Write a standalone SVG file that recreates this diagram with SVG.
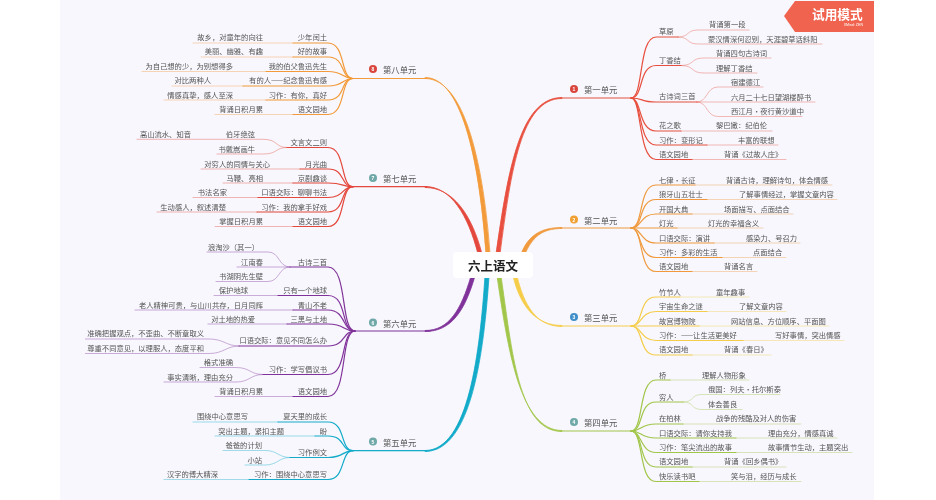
<svg xmlns="http://www.w3.org/2000/svg" width="936" height="500" viewBox="0 0 936 500">
<style>
text{font-family:"Noto Sans CJK SC","Liberation Sans",sans-serif;dominant-baseline:central;fill:#555}
.t{font-size:7.3px}
.e{text-anchor:end}
.u{font-size:8.4px;fill:#555}
.r{font-size:12.5px;font-weight:700;fill:#222;text-anchor:middle}
.n{font-size:5px;font-weight:700;fill:#fff;text-anchor:middle;font-family:"Liberation Sans",sans-serif}
.a path,.b path{fill:none;stroke-linecap:round}
.m path{stroke-width:.8}
.a path{stroke-width:1.2}
.b path{stroke-width:.7;opacity:.55}
.c1{stroke:#e8503f;fill:#e8503f}.c2{stroke:#f09a3e;fill:#f09a3e}.c3{stroke:#f5cd4a;fill:#f5cd4a}.c4{stroke:#a2c64a;fill:#a2c64a}.c5{stroke:#12aac9;fill:#12aac9}.c6{stroke:#80339a;fill:#80339a}.c7{stroke:#e4473b;fill:#e4473b}.c8{stroke:#f39a3a;fill:#f39a3a}
</style>
<defs><filter id="soft" x="0" y="0" width="1" height="1"><feGaussianBlur stdDeviation="0.5"/></filter></defs>
<rect width="936" height="500" fill="#fff"/>
<rect x="60" y="0" width="814" height="500" fill="#f7f7fd"/>
<g filter="url(#soft)">
<g id="conn">
<g class="m">
<path class="c1" d="M496 254C508 170 520 97.500 562 97.500V98.500C521 98.500 511 170 500 254Z"/>
<path class="c2" d="M521 254C528 236 540 227.500 562 227.500V228.500C541 228.500 532 238 525 254Z"/>
<path class="c3" d="M513 276C520 305 535 325.500 562 325.500V326.500C536 326.500 524 305 517 276Z"/>
<path class="c4" d="M497 276C508 350 520 430.500 562 430.500V431.500C518 431.500 512 350 501 276Z"/>
<path class="c5" d="M485 276C480 350 469 450.500 425 450.500V451.500C472 451.500 484 350 489 276Z"/>
<path class="c6" d="M471 276C461 310 449 330.500 425 330.500V331.500C452 331.500 465 310 475 276Z"/>
<path class="c7" d="M478 254C468 215 451 186.500 425 186.500V187.500C453 187.500 472 215 482 254Z"/>
<path class="c8" d="M486 254C480 170 464 77.500 425 77.500V78.500C466 78.500 484 170 490 254Z"/>
</g>
<g class="a c1">
<path d="M560 98H631"/>
<path d="M631 98C644 98 638 37 656 37H678"/><path d="M631 98C644 98 638 65.500 656 65.500H681"/><path d="M631 98C644 98 640 102 656 102H697"/><path d="M631 98C642 98 638 131 656 131H681"/><path d="M631 98C642 98 638 145 656 145H707"/><path d="M631 98C642 98 638 159.500 656 159.500H692"/>
</g>
<g class="b c1">
<path d="M678 37C690 37 686 30 698 30H749"/><path d="M678 37C690 37 686 44 698 44H822"/>
<path d="M681 65.500C695 65.500 690 58 704 58H771"/><path d="M681 65.500C695 65.500 690 73 704 73H757"/>
<path d="M697 102C708 102 706 87 718 87H763"/><path d="M697 102H815"/><path d="M697 102C708 102 706 116.500 718 116.500H802"/>
<path d="M681 131H772"/><path d="M707 145H778"/><path d="M692 159.500H786"/>
</g>
<g class="a c2">
<path d="M560 228H631"/>
<path d="M631 228C644 228 638 185 656 185H695"/><path d="M631 228C644 228 638 199.500 656 199.500H707"/><path d="M631 228C642 228 640 214 656 214H692"/><path d="M631 228H677"/><path d="M631 228C642 228 640 243 656 243H714"/><path d="M631 228C642 228 638 257.500 656 257.500H722"/><path d="M631 228C644 228 638 271.500 656 271.500H692"/>
</g>
<g class="b c2">
<path d="M695 185H832"/><path d="M707 199.500H837"/><path d="M692 214H793"/><path d="M677 228H763"/><path d="M714 243H800"/><path d="M722 257.500H786"/><path d="M692 271.500H757"/>
</g>
<g class="a c3">
<path d="M560 326H631"/>
<path d="M631 326C644 326 638 297 656 297H680"/><path d="M631 326C642 326 640 311.500 656 311.500H707"/><path d="M631 326H699"/><path d="M631 326C642 326 640 340.500 656 340.500H743"/><path d="M631 326C644 326 638 355 656 355H692"/>
</g>
<g class="b c3">
<path d="M680 297H749"/><path d="M707 311.500H786"/><path d="M699 326H829"/><path d="M743 340.500H844"/><path d="M692 355H771"/>
</g>
<g class="a c4">
<path d="M560 431H631"/>
<path d="M631 431C644 431 638 380 656 380H670"/><path d="M631 431C644 431 638 402 656 402H683"/><path d="M631 431C642 431 640 424 656 424H683"/><path d="M631 431C642 431 640 438 656 438H736"/><path d="M631 431C642 431 640 452.500 656 452.500H736"/><path d="M631 431C644 431 638 467 656 467H692"/><path d="M631 431C644 431 638 481.500 656 481.500H699"/>
</g>
<g class="b c4">
<path d="M670 380H749"/><path d="M683 402C695 402 690 394.500 702 394.500H780"/><path d="M683 402C695 402 690 409.500 702 409.500H742"/><path d="M683 424H801"/><path d="M736 438H837"/><path d="M736 452.500H852"/><path d="M692 467H786"/><path d="M699 481.500H801"/>
</g>
<g class="a c8">
<path d="M427 78.500H353"/>
<path d="M353 78.500C340 78.500 346 43 328 43H293"/><path d="M353 78.500C340 78.500 346 57 328 57H293"/><path d="M353 78.500C342 78.500 344 71.500 328 71.500H266"/><path d="M353 78.500C342 78.500 344 86 328 86H243"/><path d="M353 78.500C340 78.500 346 100 328 100H266"/><path d="M353 78.500C340 78.500 346 114.500 328 114.500H293"/>
</g>
<g class="b c8">
<path d="M293 43H193"/><path d="M293 57H201"/><path d="M266 71.500H142"/><path d="M243 86H172"/><path d="M266 100H164"/><path d="M293 114.500H215"/>
</g>
<g class="a c7">
<path d="M427 186.700H353"/>
<path d="M353 186.700C340 186.700 346 147.500 328 147.500H287"/><path d="M353 186.700C340 186.700 346 169 328 169H300"/><path d="M353 186.700C342 186.700 344 183 328 183H293"/><path d="M353 186.700C342 186.700 344 197.500 328 197.500H258"/><path d="M353 186.700C340 186.700 346 212 328 212H257"/><path d="M353 186.700C340 186.700 346 226.500 328 226.500H293"/>
</g>
<g class="b c7">
<path d="M287 147.500C275 147.500 278 139.300 263 139.300H137"/><path d="M287 147.500C275 147.500 278 154 263 154H217"/>
<path d="M300 169H201"/><path d="M293 183H223"/><path d="M258 197.500H193"/><path d="M257 212H157"/><path d="M293 226.500H215"/>
</g>
<g class="a c6">
<path d="M430 331H355"/>
<path d="M355 331C340 331 348 267 328 267H290"/><path d="M355 331C340 331 348 295.500 328 295.500H278"/><path d="M355 331C342 331 346 310 328 310H293"/><path d="M355 331C342 331 346 324 328 324H287"/><path d="M355 331C342 331 346 346 328 346H239"/><path d="M355 331C340 331 348 374.500 328 374.500H263"/><path d="M355 331C340 331 348 396.500 328 396.500H293"/>
</g>
<g class="b c6">
<path d="M290 267C278 267 280 252 268 252H207"/><path d="M290 267H237"/><path d="M290 267C278 267 280 281.500 268 281.500H216"/>
<path d="M278 295.500H214"/><path d="M293 310H135"/><path d="M287 324H208"/>
<path d="M239 346C226 346 224 339 209 339H85"/><path d="M239 346C226 346 224 353.500 209 353.500H85"/>
<path d="M263 374.500C250 374.500 250 367.500 236 367.500H200"/><path d="M263 374.500C250 374.500 250 382 236 382H164"/>
<path d="M293 396.500H215"/>
</g>
<g class="a c5">
<path d="M427 450.700H353"/>
<path d="M353 450.700C340 450.700 346 422 328 422H278"/><path d="M353 450.700C340 450.700 346 436 328 436H315"/><path d="M353 450.700C342 450.700 344 457.500 328 457.500H290"/><path d="M353 450.700C340 450.700 346 479.500 328 479.500H249"/>
</g>
<g class="b c5">
<path d="M278 422H193"/><path d="M315 436H215"/>
<path d="M290 457.500C278 457.500 278 450.500 265 450.500H223"/><path d="M290 457.500C278 457.500 278 465 265 465H245"/>
<path d="M249 479.500H164"/>
</g>
</g>
<g id="root"><rect x="453" y="252" width="80" height="26" rx="4" fill="#fff"/><text class="r" x="493" y="265">六上语文</text></g>
<g id="badge"><polygon points="784,16 795,1 874,1 874,32 795,32" fill="#f0634f"/><text x="812" y="13" style="font-size:12.7px;font-weight:700;fill:#fff">试用模式</text><text x="863" y="25" class="e" style="font-size:3.6px;fill:#fff;font-family:'Liberation Sans',sans-serif">XMind: ZEN</text></g>
<g id="u1"><circle cx="574" cy="89" r="4" fill="#d9453c"/><text class="n" x="574" y="89">1</text><text class="u" x="584" y="89">第一单元</text></g>
<g id="n1"><text class="t" x="659" y="31">草原</text></g>
<g id="n1a"><text class="t" x="709" y="24">背诵第一段</text></g>
<g id="n1b"><text class="t" x="708" y="39">蒙汉情深何忍别，天涯碧草话斜阳</text></g>
<g id="n2"><text class="t" x="659" y="60">丁香结</text></g>
<g id="n2a"><text class="t" x="716" y="53">背诵四句古诗词</text></g>
<g id="n2b"><text class="t" x="716" y="68">理解丁香结</text></g>
<g id="n3"><text class="t" x="659" y="96">古诗词三首</text></g>
<g id="n3a"><text class="t" x="731" y="82">宿建德江</text></g>
<g id="n3b"><text class="t" x="731" y="96.500">六月二十七日望湖楼醉书</text></g>
<g id="n3c"><text class="t" x="731" y="111">西江月·夜行黄沙道中</text></g>
<g id="n4"><text class="t" x="659" y="125">花之歌</text></g>
<g id="n4a"><text class="t" x="716" y="125">黎巴嫩：纪伯伦</text></g>
<g id="n5"><text class="t" x="659" y="139.500">习作：变形记</text></g>
<g id="n5a"><text class="t" x="738" y="139.500">丰富的联想</text></g>
<g id="n6"><text class="t" x="659" y="154">语文园地</text></g>
<g id="n6a"><text class="t" x="724" y="154">背诵《过故人庄》</text></g>
<g id="u2"><circle cx="574" cy="219.500" r="4" fill="#f0a030"/><text class="n" x="574" y="219.500">2</text><text class="u" x="584" y="219.500">第二单元</text></g>
<g id="n7"><text class="t" x="659" y="179.500">七律·长征</text></g>
<g id="n7a"><text class="t" x="726" y="179.500">背诵古诗，理解诗句，体会情感</text></g>
<g id="n8"><text class="t" x="659" y="194">狼牙山五壮士</text></g>
<g id="n8a"><text class="t" x="739" y="194">了解事情经过，掌握文章内容</text></g>
<g id="n9"><text class="t" x="659" y="208.500">开国大典</text></g>
<g id="n9a"><text class="t" x="724" y="208.500">场面描写、点面结合</text></g>
<g id="n10"><text class="t" x="659" y="223">灯光</text></g>
<g id="n10a"><text class="t" x="708" y="223">灯光的幸福含义</text></g>
<g id="n11"><text class="t" x="659" y="237.500">口语交际：演讲</text></g>
<g id="n11a"><text class="t" x="746" y="237.500">感染力、号召力</text></g>
<g id="n12"><text class="t" x="659" y="252">习作：多彩的生活</text></g>
<g id="n12a"><text class="t" x="753" y="252">点面结合</text></g>
<g id="n13"><text class="t" x="659" y="266">语文园地</text></g>
<g id="n13a"><text class="t" x="724" y="266">背诵名言</text></g>
<g id="u3"><circle cx="574" cy="317" r="4" fill="#3f8fc8"/><text class="n" x="574" y="317">3</text><text class="u" x="584" y="317">第三单元</text></g>
<g id="n14"><text class="t" x="659" y="291.500">竹节人</text></g>
<g id="n14a"><text class="t" x="716" y="291.500">童年趣事</text></g>
<g id="n15"><text class="t" x="659" y="306">宇宙生命之谜</text></g>
<g id="n15a"><text class="t" x="739" y="306">了解文章内容</text></g>
<g id="n16"><text class="t" x="659" y="320.500">故宫博物院</text></g>
<g id="n16a"><text class="t" x="731" y="320.500">网站信息、方位顺序、平面图</text></g>
<g id="n17"><text class="t" x="659" y="335">习作：——让生活更美好</text></g>
<g id="n17a"><text class="t" x="775" y="335">写好事情，突出情感</text></g>
<g id="n18"><text class="t" x="659" y="349">语文园地</text></g>
<g id="n18a"><text class="t" x="724" y="349">背诵《春日》</text></g>
<g id="u4"><circle cx="574" cy="422" r="4" fill="#6fa8a8"/><text class="n" x="574" y="422">4</text><text class="u" x="584" y="422">第四单元</text></g>
<g id="n19"><text class="t" x="659" y="375">桥</text></g>
<g id="n19a"><text class="t" x="702" y="375">理解人物形象</text></g>
<g id="n20"><text class="t" x="659" y="396.500">穷人</text></g>
<g id="n20a"><text class="t" x="708" y="389">俄国：列夫·托尔斯泰</text></g>
<g id="n20b"><text class="t" x="708" y="404">体会善良</text></g>
<g id="n21"><text class="t" x="659" y="418">在柏林</text></g>
<g id="n21a"><text class="t" x="716" y="418">战争的残酷及对人的伤害</text></g>
<g id="n22"><text class="t" x="659" y="432.500">口语交际：请你支持我</text></g>
<g id="n22a"><text class="t" x="768" y="432.500">理由充分，情感真诚</text></g>
<g id="n23"><text class="t" x="659" y="447">习作：笔尖流出的故事</text></g>
<g id="n23a"><text class="t" x="768" y="447">故事情节生动，主题突出</text></g>
<g id="n24"><text class="t" x="659" y="461">语文园地</text></g>
<g id="n24a"><text class="t" x="724" y="461">背诵《回乡偶书》</text></g>
<g id="n25"><text class="t" x="659" y="476">快乐读书吧</text></g>
<g id="n25a"><text class="t" x="731" y="476">笑与泪，经历与成长</text></g>
<g id="u8"><circle cx="373" cy="69" r="4" fill="#d9453c"/><text class="n" x="373" y="69">8</text><text class="u" x="383" y="69">第八单元</text></g>
<g id="n26"><text class="t e" x="327" y="37">少年闰土</text></g>
<g id="n26a"><text class="t e" x="263" y="37">故乡，对童年的向往</text></g>
<g id="n27"><text class="t e" x="327" y="51">好的故事</text></g>
<g id="n27a"><text class="t e" x="263" y="51">美丽、幽雅、有趣</text></g>
<g id="n28"><text class="t e" x="327" y="66">我的伯父鲁迅先生</text></g>
<g id="n28a"><text class="t e" x="233" y="66">为自己想的少，为别想得多</text></g>
<g id="n29"><text class="t e" x="327" y="80">有的人——纪念鲁迅有感</text></g>
<g id="n29a"><text class="t e" x="211" y="80">对比两种人</text></g>
<g id="n30"><text class="t e" x="327" y="94.500">习作：有你，真好</text></g>
<g id="n30a"><text class="t e" x="233" y="94.500">情感真挚，感人至深</text></g>
<g id="n31"><text class="t e" x="327" y="109">语文园地</text></g>
<g id="n31a"><text class="t e" x="263" y="109">背诵日积月累</text></g>
<g id="u7"><circle cx="373" cy="178" r="4" fill="#6fa8a8"/><text class="n" x="373" y="178">7</text><text class="u" x="383" y="178">第七单元</text></g>
<g id="n32"><text class="t e" x="327" y="141.500">文言文二则</text></g>
<g id="n32a"><text class="t e" x="255" y="134">伯牙绝弦</text></g>
<g id="n32a1"><text class="t e" x="191" y="134">高山流水、知音</text></g>
<g id="n32b"><text class="t e" x="255" y="149">书戴嵩画牛</text></g>
<g id="n33"><text class="t e" x="327" y="163.500">月光曲</text></g>
<g id="n33a"><text class="t e" x="270" y="163.500">对穷人的同情与关心</text></g>
<g id="n34"><text class="t e" x="327" y="178">京剧趣谈</text></g>
<g id="n34a"><text class="t e" x="263" y="178">马鞭、亮相</text></g>
<g id="n35"><text class="t e" x="327" y="192">口语交际：聊聊书法</text></g>
<g id="n35a"><text class="t e" x="227" y="192">书法名家</text></g>
<g id="n36"><text class="t e" x="327" y="206.500">习作：我的拿手好戏</text></g>
<g id="n36a"><text class="t e" x="226" y="206.500">生动感人，叙述清楚</text></g>
<g id="n37"><text class="t e" x="327" y="221">语文园地</text></g>
<g id="n37a"><text class="t e" x="263" y="221">掌握日积月累</text></g>
<g id="u6"><circle cx="373" cy="322.500" r="4" fill="#6fa8a8"/><text class="n" x="373" y="322.500">6</text><text class="u" x="383" y="322.500">第六单元</text></g>
<g id="n38"><text class="t e" x="327" y="261.500">古诗三首</text></g>
<g id="n38a"><text class="t e" x="259" y="246.500">浪淘沙（其一）</text></g>
<g id="n38b"><text class="t e" x="263" y="261.500">江南春</text></g>
<g id="n38c"><text class="t e" x="263" y="276">书湖阴先生壁</text></g>
<g id="n39"><text class="t e" x="327" y="290">只有一个地球</text></g>
<g id="n39a"><text class="t e" x="248" y="290">保护地球</text></g>
<g id="n40"><text class="t e" x="327" y="304.500">青山不老</text></g>
<g id="n40a"><text class="t e" x="263" y="304.500">老人精神可贵，与山川共存，日月同辉</text></g>
<g id="n41"><text class="t e" x="327" y="318.500">三黑与土地</text></g>
<g id="n41a"><text class="t e" x="255" y="318.500">对土地的热爱</text></g>
<g id="n42"><text class="t e" x="327" y="340">口语交际：意见不同怎么办</text></g>
<g id="n42a"><text class="t e" x="204" y="333">准确把握观点，不歪曲、不断章取义</text></g>
<g id="n42b"><text class="t e" x="204" y="348">尊重不同意见，以理服人，态度平和</text></g>
<g id="n43"><text class="t e" x="327" y="369">习作：学写倡议书</text></g>
<g id="n43a"><text class="t e" x="233" y="361.500">格式准确</text></g>
<g id="n43b"><text class="t e" x="233" y="376.500">事实清晰，理由充分</text></g>
<g id="n44"><text class="t e" x="327" y="390.500">语文园地</text></g>
<g id="n44a"><text class="t e" x="263" y="390.500">背诵日积月累</text></g>
<g id="u5"><circle cx="373" cy="441.500" r="4" fill="#6fa8a8"/><text class="n" x="373" y="441.500">5</text><text class="u" x="383" y="441.500">第五单元</text></g>
<g id="n45"><text class="t e" x="327" y="416">夏天里的成长</text></g>
<g id="n45a"><text class="t e" x="248" y="416">围绕中心意思写</text></g>
<g id="n46"><text class="t e" x="327" y="430.500">盼</text></g>
<g id="n46a"><text class="t e" x="284" y="430.500">突出主题，紧扣主题</text></g>
<g id="n47"><text class="t e" x="327" y="452">习作例文</text></g>
<g id="n47a"><text class="t e" x="262" y="445">爸爸的计划</text></g>
<g id="n47b"><text class="t e" x="262" y="459.500">小站</text></g>
<g id="n48"><text class="t e" x="327" y="474">习作：围绕中心意思写</text></g>
<g id="n48a"><text class="t e" x="218" y="474">汉字的博大精深</text></g>
</g>
</svg>
